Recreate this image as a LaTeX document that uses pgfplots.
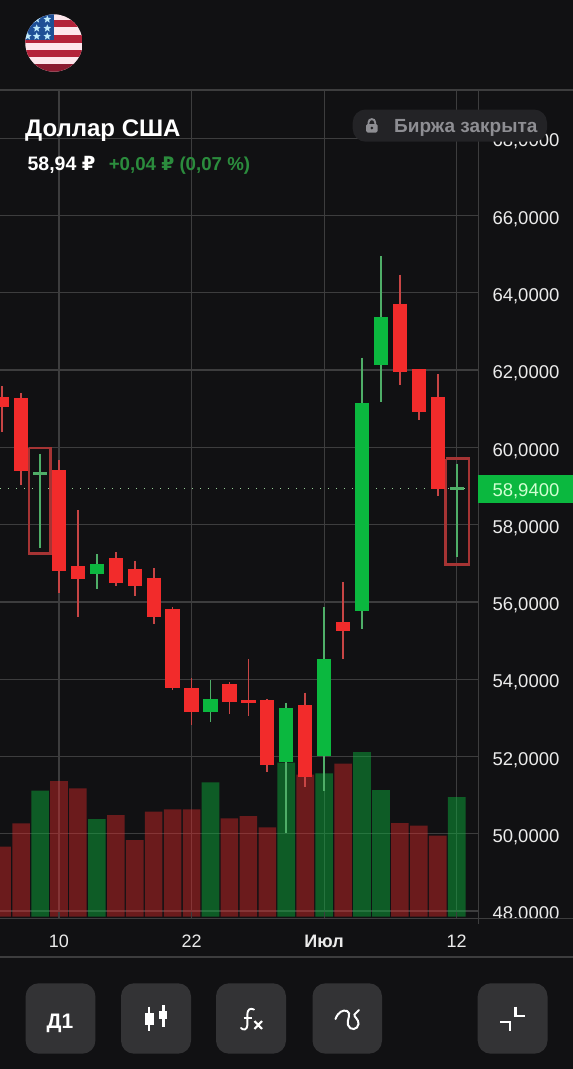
\documentclass[border=0pt]{standalone}
\usepackage{pgfplots}
\pgfplotsset{compat=1.18}
\usepackage{fontspec}
\setmainfont{Liberation Sans}
\newfontfamily\rubfont{DejaVu Sans}
\usetikzlibrary{shapes.geometric}
\definecolor{bgc}{HTML}{111113}
\definecolor{gridc}{HTML}{3D3D3E}
\definecolor{redc}{HTML}{F22B2B}
\definecolor{greenc}{HTML}{0BB83F}
\definecolor{redw}{HTML}{C84545}
\definecolor{greenw}{HTML}{4FAE68}
\definecolor{rectc}{HTML}{A63434}
\definecolor{btn}{HTML}{333335}
\definecolor{badge}{HTML}{232326}
\definecolor{badget}{HTML}{8E8E93}
\definecolor{upt}{HTML}{2B8C3D}
\pgfplotstableread{
x v
-1 126
2 97.7
8 134.4
12 154
14 143.4
16 164.7
17 126.7
21 119.7
}\volgreen
\pgfplotstableread{
x v
-3 70
-2 93.4
0 135.7
1 128.4
3 101.7
4 76.7
5 105
6 107.4
7 107.4
9 98.4
10 100.7
11 89.4
13 142
15 153
18 93.7
19 91
20 81
}\volred
\pgfplotstableread{
x y
-3 61.58
-3 60.39
-2 nan
-2 61.41
-2 59.02
0 nan
0 59.66
0 56.24
1 nan
1 58.37
1 55.62
3 nan
3 57.29
3 56.41
4 nan
4 57.07
4 56.15
5 nan
5 56.87
5 55.44
6 nan
6 55.87
6 53.73
7 nan
7 54.02
7 52.81
9 nan
9 53.92
9 53.09
10 nan
10 54.52
10 53.05
11 nan
11 53.48
11 51.61
13 nan
13 53.65
13 51.21
15 nan
15 56.52
15 54.52
18 nan
18 64.47
18 61.61
19 nan
19 62.03
19 60.70
20 nan
20 61.89
20 58.74
}\wickred
\pgfplotstableread{
x y
-1 59.83
-1 57.40
2 nan
2 57.23
2 56.33
8 nan
8 53.97
8 52.88
12 nan
12 53.39
12 50.01
14 nan
14 55.88
14 51.11
16 nan
16 62.32
16 55.30
17 nan
17 64.95
17 61.17
21 nan
21 59.58
21 57.15
}\wickgreen
\pgfplotstableread{
x y
-3 61.31
-3 61.04
-2 nan
-2 61.27
-2 59.40
0 nan
0 59.41
0 56.80
1 nan
1 56.92
1 56.58
3 nan
3 57.13
3 56.48
4 nan
4 56.86
4 56.40
5 nan
5 56.63
5 55.62
6 nan
6 55.82
6 53.77
7 nan
7 53.77
7 53.15
9 nan
9 53.87
9 53.40
10 nan
10 53.45
10 53.38
11 nan
11 53.45
11 51.79
13 nan
13 53.32
13 51.46
15 nan
15 55.48
15 55.25
18 nan
18 63.72
18 61.95
19 nan
19 62.02
19 60.91
20 nan
20 61.31
20 58.91
}\bodyred
\pgfplotstableread{
x y
2 56.98
2 56.71
8 nan
8 53.48
8 53.15
12 nan
12 53.25
12 51.86
14 nan
14 54.52
14 52.01
16 nan
16 61.16
16 55.76
17 nan
17 63.37
17 62.13
}\bodygreen
\pgfplotstableread{
x y
-1 59.36
-1 59.29
21 nan
21 58.97
21 58.90
}\bodydoji
\pgfplotsset{
  base/.style={scale only axis,width=478.3bp,height=828.3bp,anchor=south west,at={(0bp,-918.3bp)},
    xmin=-3.115,xmax=22.14},
  price/.style={base,ymin=47.81,ymax=69.25},
}
\begin{document}
\begin{tikzpicture}
\fill[bgc] (0bp,-1069bp) rectangle (573bp,0bp);
\useasboundingbox (0bp,-1069bp) rectangle (573bp,0bp);
% grid and price labels
\begin{axis}[price,
  axis line style={draw=none},
  xtick={0,7,14,21},xticklabels={},
  ytick={48,50,52,54,56,58,60,62,64,66,68},
  yticklabels={{48,0000},{50,0000},{52,0000},{54,0000},{56,0000},{58,0000},{60,0000},{62,0000},{64,0000},{66,0000},{68,0000}},
  yticklabel pos=right,
  major tick length=0pt,
  grid=major,
  grid style={gridc,line width=1.2bp},
  yticklabel style={anchor=west,inner sep=0pt,xshift=14bp,yshift=-2bp,text=white!92!black,
    font=\fontsize{18.5bp}{20bp}\selectfont,text height=13.4bp,text depth=0pt},
]
\addplot[draw=none] coordinates {(0,50)};
\end{axis}
% volume
\begin{axis}[base,ymin=-1.6,ymax=826.7,hide axis,ybar,bar width=17.6bp,bar shift=0pt]
\addplot[draw=none,fill=greenc,fill opacity=.45] table[x=x,y=v] {\volgreen};
\addplot[draw=none,fill=redc,fill opacity=.4] table[x=x,y=v] {\volred};
\end{axis}
% candles
\begin{axis}[price,hide axis,unbounded coords=jump]
\addplot[black!45!green!40!white,line width=1.4bp,dash pattern=on 1.4bp off 6.6bp] coordinates {(-3.115,58.94)(21.7,58.94)};
\addplot[rectc,line width=2.4bp] coordinates {(-1.568,59.99)(-0.438,59.99)(-0.438,57.25)(-1.568,57.25)(-1.568,59.99)};
\addplot[rectc,line width=2.4bp] coordinates {(20.417,59.71)(21.647,59.71)(21.647,56.97)(20.417,56.97)(20.417,59.71)};
\addplot[redw,line width=1.7bp] table[x=x,y=y] {\wickred};
\addplot[greenw,line width=1.7bp] table[x=x,y=y] {\wickgreen};
\addplot[redc,line width=14.3bp] table[x=x,y=y] {\bodyred};
\addplot[greenc,line width=14.3bp] table[x=x,y=y] {\bodygreen};
\addplot[greenw,line width=14bp] table[x=x,y=y] {\bodydoji};
\end{axis}
\begin{scope}[x=1bp,y=-1bp]
% cover under plot area
\fill[bgc] (0,918.3) rectangle (573,1069);
\draw[gridc,line width=1.2bp] (0,90) -- (573,90);
\draw[gridc,line width=1.2bp] (0,918.3) -- (573,918.3);
\draw[gridc,line width=1.2bp] (0,957) -- (573,957);
\draw[gridc,line width=1.2bp] (478.3,90) -- (478.3,924);
\end{scope}
% time axis
\begin{axis}[price,axis line style={draw=none},
  xtick={0,7,14,21},xticklabels={10,22,\textbf{Июл},12},
  ytick=\empty,xtick pos=bottom,
  tick style={gridc,line width=1.2bp},tickwidth=6bp,
  xticklabel style={inner sep=0pt,yshift=-16bp,text=white!92!black,font=\fontsize{18bp}{20bp}\selectfont,text height=13.2bp,text depth=0pt},
]
\addplot[draw=none] coordinates {(0,50)};
\end{axis}
\begin{scope}[x=1bp,y=-1bp]
% price tag
\fill[greenc] (478,474.7) rectangle (573,503.3);
\node[anchor=base west,inner sep=0pt,text=green!18!white,font=\fontsize{18.5bp}{20bp}\selectfont] at (492.3,496.8) {58,9400};
% flag
\definecolor{fw}{HTML}{FDE6EC}
\definecolor{fr}{HTML}{B3233A}
\definecolor{frd}{HTML}{8A1A30}
\definecolor{fb}{HTML}{1E4F96}
\begin{scope}
\clip (54,43) circle (28.7);
\fill[fw] (25,14) rectangle (83,72);
\fill[fr] (54,20) rectangle (83,27);
\fill[fr] (25,35) rectangle (83,43);
\fill[fr] (25,50) rectangle (83,57);
\fill[frd] (25,64) rectangle (83,72);
\fill[fb] (25,14) rectangle (54,40);
\foreach \p in {(36.7,19.3),(47.3,19.3),(36.7,28.3),(47.3,28.3),(27.7,36.3),(36.7,36.3),(47.3,36.3)}
  \node[star,star points=5,star point ratio=2.3,fill=cyan!25!white,inner sep=0pt,minimum size=8bp] at \p {};
\end{scope}
% heading
\node[anchor=base west,inner sep=0pt,text=white,font=\bfseries\fontsize{24bp}{28bp}\selectfont] at (25,136.7) {Доллар США};
\node[anchor=base west,inner sep=0pt,text=white,font=\bfseries\fontsize{19.5bp}{21bp}\selectfont] at (27.4,170.7) {58,94 {\rubfont ₽}};
\node[anchor=base west,inner sep=0pt,text=upt,font=\bfseries\fontsize{18.7bp}{20bp}\selectfont] at (108.6,170.7) {+0,04 {\rubfont ₽} (0,07 \%)};
% badge
\fill[badge,rounded corners=13bp] (352.7,109.5) rectangle (547,141.7);
\fill[badget,rounded corners=1.5bp] (366,124) rectangle (377.7,132.5);
\draw[badget,line width=1.9bp] (368.5,124.5) -- (368.5,122.5) .. controls (368.5,118) and (375.2,118) .. (375.2,122.5) -- (375.2,124.5);
\fill[badge] (371.8,128) circle (1.5);
\node[anchor=base west,inner sep=0pt,text=badget,font=\bfseries\fontsize{19bp}{21bp}\selectfont] at (394,132.3) {Биржа закрыта};
% buttons
\foreach \a/\b in {25.6/95.4,121/191,216/286,312.5/382,477.7/547.5}
  \fill[btn,rounded corners=13bp] (\a,983.3) rectangle (\b,1053.7);
\node[anchor=base,inner sep=0pt,text=white,font=\bfseries\fontsize{21bp}{23bp}\selectfont] at (60,1028) {Д1};
\fill[white] (144.7,1013) rectangle (153.5,1025);
\draw[white,line width=2.6bp] (149,1006.7) -- (149,1031);
\fill[white] (158.6,1010.7) rectangle (167.4,1019.3);
\draw[white,line width=2.6bp] (163.4,1005) -- (163.4,1026.7);
\draw[white,line width=1.9bp,line cap=round] (254,1009.5) .. controls (250,1007.5) and (247.4,1010) .. (247.4,1014) -- (247.4,1025) .. controls (247.4,1030) and (243,1030.5) .. (241,1028);
\draw[white,line width=1.9bp] (243.5,1018) -- (252,1018);
\draw[white,line width=2.1bp] (254.5,1021) -- (262,1029) (262,1021) -- (254.5,1029);
\draw[white,line width=2bp,line cap=round] (335.5,1019) .. controls (338,1012) and (343,1009.5) .. (347,1011) .. controls (352,1013) and (346.5,1020) .. (348,1025) .. controls (350,1031) and (358,1030) .. (358.5,1024) .. controls (359,1019) and (353.5,1017) .. (354.5,1014.5) .. controls (355.5,1012.5) and (358,1012) .. (359,1010);
\draw[white,line width=2.3bp] (515.4,1006.7) -- (515.4,1016) -- (525,1016);
\draw[white,line width=2.3bp] (500,1021.7) -- (510,1021.7) -- (510,1030.7);
\end{scope}
\end{tikzpicture}
\end{document}
